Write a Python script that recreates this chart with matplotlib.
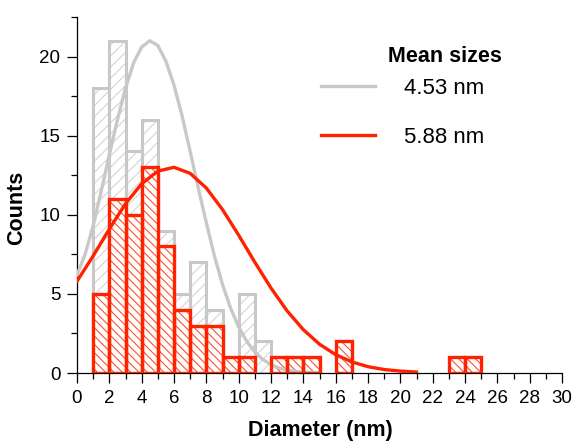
import numpy as np
import matplotlib.pyplot as plt
from matplotlib.ticker import MultipleLocator

plt.rcParams['font.family'] = ['Liberation Sans', 'DejaVu Sans']
plt.rcParams['hatch.linewidth'] = 0.8

# histogram counts, 1 nm bins starting at 1 nm
bin_left = [1, 2, 3, 4, 5, 6, 7, 8, 9, 10, 11, 12, 13, 14, 15, 16,
            17, 18, 19, 20, 21, 22, 23, 24]
gray_counts = [18, 21, 14, 16, 9, 5, 7, 4, 0, 5, 2, 0, 0, 0, 0, 0,
               0, 0, 0, 0, 0, 0, 0, 0]
red_counts = [5, 11, 10, 13, 8, 4, 3, 3, 1, 1, 0, 1, 1, 1, 0, 2,
              0, 0, 0, 0, 0, 0, 1, 1]

# fitted curves
gray_x = [0, 0.5, 1, 1.5, 2, 2.5, 3, 3.5, 4, 4.5, 5, 5.5, 6, 6.5, 7, 7.5,
          8, 8.5, 9, 9.5, 10, 10.5, 11, 11.5, 12, 12.5, 13, 13.5, 14, 15]
gray_y = [6.2, 7.5, 9.3, 11.5, 13.8, 16.0, 18.0, 19.6, 20.6, 21.0, 20.7,
          19.7, 18.2, 16.25, 14.0, 11.7, 9.5, 7.4, 5.6, 4.1, 2.9, 2.0,
          1.32, 0.85, 0.53, 0.31, 0.18, 0.1, 0.05, 0.01]
red_x = [0, 1, 2, 3, 4, 5, 6, 7, 8, 9, 10, 11, 12, 13, 14, 15, 16, 17,
         18, 19, 20, 21]
red_y = [5.8, 7.4, 9.1, 10.7, 11.96, 12.76, 13.0, 12.62, 11.69, 10.33,
         8.71, 7.0, 5.37, 3.92, 2.74, 1.82, 1.16, 0.7, 0.4, 0.22, 0.12, 0.06]

gray = '#c8c8c8'
gray_hatch = '#d4d4d4'
red = '#ff2200'
red_hatch = '#ff5030'

fig = plt.figure(figsize=(5.73, 4.41), dpi=100)
ax = fig.add_axes([77/573, 68/441, 485/573, 356/441])

gb = [x for x, c in zip(bin_left, gray_counts) if c > 0]
gc = [c for c in gray_counts if c > 0]
rb = [x for x, c in zip(bin_left, red_counts) if c > 0]
rc = [c for c in red_counts if c > 0]

ax.bar(gb, gc, width=1, align='edge', facecolor='white', edgecolor=gray_hatch,
       hatch='///', linewidth=0, zorder=1)
ax.bar(gb, gc, width=1, align='edge', facecolor='none', edgecolor=gray,
       linewidth=2.2, zorder=1.5)
ax.bar(rb, rc, width=1, align='edge', facecolor='white', edgecolor=red_hatch,
       hatch='\\\\\\\\', linewidth=0, zorder=2)
l1, = ax.plot(gray_x, gray_y, color=gray, lw=2.4, zorder=3, label='4.53 nm')
ax.bar(rb, rc, width=1, align='edge', facecolor='none', edgecolor=red,
       linewidth=2.4, zorder=4)
l2, = ax.plot(red_x, red_y, color=red, lw=2.4, zorder=5, label='5.88 nm')

ax.set_xlim(0, 30)
ax.set_ylim(0, 22.5)
ax.xaxis.set_major_locator(MultipleLocator(2))
ax.xaxis.set_minor_locator(MultipleLocator(1))
ax.yaxis.set_major_locator(MultipleLocator(5))
ax.yaxis.set_minor_locator(MultipleLocator(2.5))
ax.tick_params(which='major', length=7, width=0.9, labelsize=13.5, pad=5)
ax.tick_params(which='minor', length=4, width=0.9)
for s in ['top', 'right']:
    ax.spines[s].set_visible(False)
for s in ['left', 'bottom']:
    ax.spines[s].set_linewidth(0.9)

ax.set_xlabel('Diameter (nm)', fontsize=15.5, fontweight='bold')
ax.set_ylabel('Counts', fontsize=15.5, fontweight='bold')
ax.xaxis.set_label_coords(0.501, -0.132)
ax.yaxis.set_label_coords(-0.102, 0.465)

ax.legend(handles=[l1, l2], loc='upper left', frameon=False, fontsize=16,
          handlelength=2.45, handletextpad=1.3, labelspacing=1.25,
          borderpad=0, borderaxespad=0,
          bbox_to_anchor=(321/573, 1 - 78/441), bbox_transform=fig.transFigure)
fig.text(445/573, 1 - 56/441, 'Mean sizes', fontsize=15.5, fontweight='bold',
         ha='center', va='center')

fig.savefig('out.png', dpi=100)
